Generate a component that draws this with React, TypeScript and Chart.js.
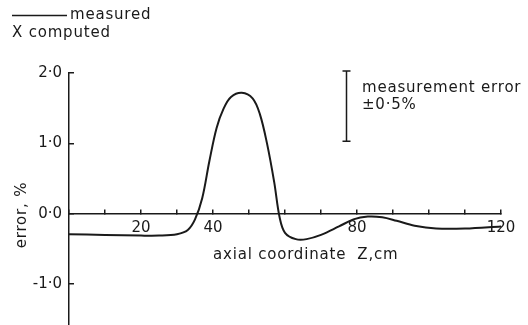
import React, { useEffect, useRef } from "react";
import { Chart, registerables } from "chart.js";

Chart.register(...registerables);

// axial coordinate Z (cm)
const zValues: number[] = [0, 10, 20, 25, 30, 33, 35, 37, 39, 41, 43, 45, 48, 51, 53, 55, 57, 58.5, 60, 63, 66, 70, 75, 79, 83, 87, 91, 96, 102, 110, 120];
// measured error (%)
const errorValues: number[] = [-0.29, -0.3, -0.31, -0.31, -0.29, -0.23, -0.08, 0.22, 0.75, 1.22, 1.5, 1.66, 1.72, 1.64, 1.42, 1.0, 0.45, -0.05, -0.27, -0.36, -0.36, -0.3, -0.18, -0.08, -0.04, -0.05, -0.1, -0.17, -0.21, -0.21, -0.18];
const xTickLabels: number[] = [20, 40, 80, 120];
const yTickLabels: number[] = [-1, 0, 1, 2];
const errorBarZ = 77;
const errorBarCenter = 1.53;
const errorBarHalf = 0.5;

const INK = "#1a1a1a";
const FONT = "DejaVu Sans";

const annotations = {
  id: "annotations",
  afterDraw(chart: any) {
    const ctx = chart.ctx as CanvasRenderingContext2D;
    const xs = chart.scales.x;
    const ys = chart.scales.y;
    ctx.save();
    ctx.fillStyle = INK;
    ctx.strokeStyle = INK;
    ctx.font = `15px '${FONT}'`;
    (ctx as any).letterSpacing = "0.8px";
    ctx.textBaseline = "middle";
    ctx.textAlign = "left";

    // legend
    ctx.lineWidth = 1.5;
    ctx.beginPath();
    ctx.moveTo(12, 15.5);
    ctx.lineTo(67, 15.5);
    ctx.stroke();
    ctx.fillText("measured", 70, 15);
    ctx.fillText("X computed", 12, 33);

    // measurement error bar
    const bx = Math.round(xs.getPixelForValue(errorBarZ)) + 0.5;
    const by1 = ys.getPixelForValue(errorBarCenter + errorBarHalf);
    const by2 = ys.getPixelForValue(errorBarCenter - errorBarHalf);
    ctx.lineWidth = 1.5;
    ctx.beginPath();
    ctx.moveTo(bx, by1);
    ctx.lineTo(bx, by2);
    ctx.moveTo(bx - 4, by1);
    ctx.lineTo(bx + 4, by1);
    ctx.moveTo(bx - 4, by2);
    ctx.lineTo(bx + 4, by2);
    ctx.stroke();
    ctx.fillText("measurement error", 362, 88);
    ctx.fillText("\u00B10\u00B75%", 362, 105);

    // x title
    ctx.fillText("axial coordinate  Z,cm", 213, 255);

    // y title
    ctx.translate(22, 215);
    ctx.rotate(-Math.PI / 2);
    ctx.textAlign = "center";
    ctx.fillText("error, %", 0, 0);
    ctx.restore();
  },
};

export default function App() {
  const ref = useRef<HTMLCanvasElement>(null);
  useEffect(() => {
    if (!ref.current) return;
    const chart = new Chart(ref.current, {
      type: "line",
      data: {
        datasets: [
          {
            label: "measured",
            data: zValues.map((z, i) => ({ x: z, y: errorValues[i] })),
            borderColor: INK,
            borderWidth: 2,
            pointRadius: 0,
            tension: 0.35,
            fill: false,
          },
        ],
      },
      options: {
        animation: false,
        responsive: false,
        layout: { padding: { top: 73, right: 27, bottom: 0, left: 0 } },
        plugins: { legend: { display: false }, tooltip: { enabled: false }, title: { display: false } },
        scales: {
          x: {
            type: "linear",
            min: 0,
            max: 120,
            position: { y: 0 } as any,
            afterFit: (scale: any) => {
              scale.height = 0;
              scale.paddingTop = 0;
              scale.paddingBottom = 0;
              scale.paddingLeft = 0;
              scale.paddingRight = 0;
            },
            border: { display: true, color: INK, width: 1.5 },
            grid: { drawOnChartArea: false, drawTicks: true, tickLength: -5, color: INK, lineWidth: 1.5 },
            ticks: {
              stepSize: 10,
              color: INK,
              padding: 10,
              maxRotation: 0,
              autoSkip: false,
              font: { family: FONT, size: 15 },
              callback: (v: any) => (xTickLabels.includes(Number(v)) ? String(v) : ""),
            },
          },
          y: {
            type: "linear",
            min: -1.58,
            max: 2.0,
            border: { display: true, color: INK, width: 1.5 },
            grid: { drawOnChartArea: false, drawTicks: true, tickLength: -5, color: INK, lineWidth: 1.5 },
            afterFit: (scale: any) => {
              scale.width = 69;
              scale.paddingTop = 0;
              scale.paddingBottom = 0;
            },
            ticks: {
              stepSize: 1,
              includeBounds: false,
              color: INK,
              padding: 12,
              font: { family: FONT, size: 15 },
              callback: (v: any) =>
                yTickLabels.includes(Number(v)) ? Number(v).toFixed(1).replace(".", "\u00B7") : "",
            },
          },
        },
      },
      plugins: [annotations],
    });
    return () => chart.destroy();
  }, []);
  return (
    <div style={{ position: "absolute", left: 0, top: 0, width: 528, height: 325, background: "#fff" }}>
      <canvas ref={ref} width={528} height={325} style={{ display: "block" }} />
    </div>
  );
}
